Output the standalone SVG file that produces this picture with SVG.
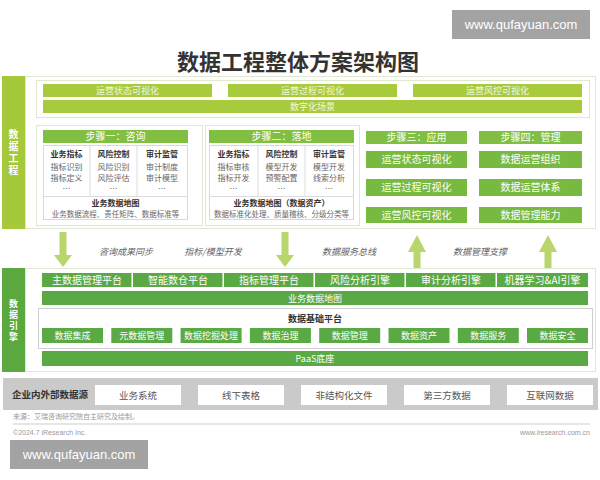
<svg xmlns="http://www.w3.org/2000/svg" width="600" height="480" viewBox="0 0 600 480">
<style>
text{font-family:"Noto Sans CJK SC","Noto Sans",sans-serif;text-anchor:middle}
.title{font-size:22px;font-weight:bold;fill:#333}
.wm{font-family:"Liberation Sans",sans-serif;font-size:13px;fill:#fff}
.vl{font-size:10px;font-weight:bold;fill:#fff;writing-mode:vertical-rl;letter-spacing:2px}
.vl2{font-size:9px;font-weight:bold;fill:#fff;writing-mode:vertical-rl;letter-spacing:2px}
.lg{fill:#a8cb3d}
.lgt{font-size:9px;fill:#f3f8e0}
.frame{fill:#fff;stroke:#e0e9d0}
.hdr{fill:#80bf42}
.hdrt{font-size:10px;fill:#fff}
.inner{fill:#fff;stroke:#d9d9d9}
.div{stroke:#dcdcdc;stroke-width:1}
.hd{font-size:8px;font-weight:bold;fill:#333}
.it{font-size:8px;fill:#666}
.bt{font-size:7.5px;fill:#666}
.st{fill:#78b940}
.stt{font-size:10px;fill:#fff}
.arr{fill:#b8d66c}
.al{font-size:9px;font-style:italic;fill:#666}
.dg{fill:#5aa944}
.dgt{font-size:10px;fill:#fff}
.dgs{font-size:9px;fill:#fff}
.src{fill:#fff}
.srct{font-size:9.5px;fill:#555}
.ft{font-size:7px;fill:#999;text-anchor:start}
</style>

<g id="watermark-top">
<rect x="452" y="10" width="138" height="29" fill="#a3a3a3"/>
<text class="wm" x="521" y="29">www.qufayuan.com</text>
</g>
<text class="title" x="298" y="70">数据工程整体方案架构图</text>

<!-- Section 1: 数据工程 -->
<g id="sec-engineering">
<rect x="25.5" y="76.5" width="570" height="152" class="frame"/>
<rect x="2" y="76" width="23" height="153" fill="#a6c93b"/>
<text class="vl" x="13.5" y="153">数据工程</text>
</g>

<g id="scene-box">
<rect x="36.5" y="80.5" width="553" height="37" fill="#fff" stroke="#dfe8cf"/>
</g>
<g id="viz-state"><rect x="43" y="84" width="169" height="13" class="lg"/><text class="lgt" x="127.5" y="94">运营状态可视化</text></g>
<g id="viz-process"><rect x="228" y="84" width="169" height="13" class="lg"/><text class="lgt" x="312.5" y="94">运营过程可视化</text></g>
<g id="viz-risk"><rect x="413" y="84" width="169" height="13" class="lg"/><text class="lgt" x="497.5" y="94">运营风控可视化</text></g>
<g id="digital-scene"><rect x="43" y="100" width="539" height="13" class="lg"/><text class="lgt" x="312.5" y="110">数字化场景</text></g>

<g id="step1">
<rect x="36.5" y="125.5" width="166" height="100" class="frame"/>
<rect x="43" y="130" width="145" height="13" class="hdr"/>
<text class="hdrt" x="115.5" y="140">步骤一：咨询</text>
<rect x="43.5" y="145.5" width="144" height="74" class="inner"/>
<line x1="90" y1="146" x2="90" y2="196" class="div"/>
<line x1="137" y1="146" x2="137" y2="196" class="div"/>
<line x1="44" y1="196.5" x2="187" y2="196.5" class="div"/>
<text class="hd" x="66.5" y="157">业务指标</text>
<text class="hd" x="113.5" y="157">风险控制</text>
<text class="hd" x="162" y="157">审计监管</text>
<text class="it" x="66.5" y="170">指标识别</text>
<text class="it" x="66.5" y="181">指标定义</text>
<text class="it" x="66.5" y="192">…</text>
<text class="it" x="113.5" y="170">风险识别</text>
<text class="it" x="113.5" y="181">风险评估</text>
<text class="it" x="113.5" y="192">…</text>
<text class="it" x="162" y="170">审计制度</text>
<text class="it" x="162" y="181">审计模型</text>
<text class="it" x="162" y="192">…</text>
<text class="hd" x="115.5" y="206">业务数据地图</text>
<text class="bt" x="115.5" y="217">业务数据流程、责任矩阵、数据标准等</text>
</g>

<g id="step2">
<rect x="205.5" y="125.5" width="154" height="100" class="frame"/>
<rect x="209" y="130" width="145" height="13" class="hdr"/>
<text class="hdrt" x="281.5" y="140">步骤二：落地</text>
<rect x="209.5" y="145.5" width="144" height="74" class="inner"/>
<line x1="258" y1="146" x2="258" y2="196" class="div"/>
<line x1="305" y1="146" x2="305" y2="196" class="div"/>
<line x1="210" y1="196.5" x2="353" y2="196.5" class="div"/>
<text class="hd" x="233.5" y="157">业务指标</text>
<text class="hd" x="281.5" y="157">风险控制</text>
<text class="hd" x="329" y="157">审计监管</text>
<text class="it" x="233.5" y="170">指标审核</text>
<text class="it" x="233.5" y="181">指标开发</text>
<text class="it" x="233.5" y="192">…</text>
<text class="it" x="281.5" y="170">模型开发</text>
<text class="it" x="281.5" y="181">预警配置</text>
<text class="it" x="281.5" y="192">…</text>
<text class="it" x="329" y="170">模型开发</text>
<text class="it" x="329" y="181">线索分析</text>
<text class="it" x="329" y="192">…</text>
<text class="hd" x="281.5" y="206">业务数据地图（数据资产）</text>
<text class="bt" x="281.5" y="217">数据标准化处理、质量稽核、分级分类等</text>
</g>

<g id="step3">
<rect x="366" y="131" width="101" height="13" class="hdr"/>
<text class="hdrt" x="416.5" y="141">步骤三：应用</text>
<rect x="366" y="151" width="101" height="17" class="st"/>
<text class="stt" x="416.5" y="163">运营状态可视化</text>
<rect x="366" y="179" width="101" height="17" class="st"/>
<text class="stt" x="416.5" y="191">运营过程可视化</text>
<rect x="366" y="207" width="101" height="16" class="st"/>
<text class="stt" x="416.5" y="219">运营风控可视化</text>
</g>

<g id="step4">
<rect x="479" y="131" width="103" height="13" class="hdr"/>
<text class="hdrt" x="530.5" y="141">步骤四：管理</text>
<rect x="479" y="151" width="103" height="17" class="st"/>
<text class="stt" x="530.5" y="163">数据运营组织</text>
<rect x="479" y="179" width="103" height="17" class="st"/>
<text class="stt" x="530.5" y="191">数据运营体系</text>
<rect x="479" y="207" width="103" height="16" class="st"/>
<text class="stt" x="530.5" y="219">数据管理能力</text>
</g>

<!-- connectors -->
<g id="connectors">
<polygon class="arr" points="59.5,232 66.5,232 66.5,255 72,255 63,267 54,255 59.5,255"/>
<polygon class="arr" points="281.5,232 288.5,232 288.5,255 294,255 285,267 276,255 281.5,255"/>
<polygon class="arr" points="417,235 426,252 420.5,252 420.5,268 413.5,268 413.5,252 408,252"/>
<polygon class="arr" points="548,235 557,252 551.5,252 551.5,268 544.5,268 544.5,252 539,252"/>
<text class="al" x="126" y="255">咨询成果同步</text>
<text class="al" x="213" y="255">指标/模型开发</text>
<text class="al" x="349" y="255">数据服务总线</text>
<text class="al" x="480" y="255">数据管理支撑</text>
</g>

<!-- Section 2: 数据引擎 -->
<g id="sec-engine">
<rect x="25.5" y="268.5" width="570" height="103" class="frame"/>
<rect x="2" y="268" width="23" height="104" fill="#5aa83e"/>
<text class="vl2" x="13.5" y="321">数据引擎</text>
</g>
<g id="eng-mdm"><rect x="42" y="273" width="89.5" height="14" class="dg"/><text class="dgt" x="87" y="284">主数据管理平台</text></g>
<g id="eng-dw"><rect x="133" y="273" width="89.5" height="14" class="dg"/><text class="dgt" x="178" y="284">智能数仓平台</text></g>
<g id="eng-metric"><rect x="224" y="273" width="89.5" height="14" class="dg"/><text class="dgt" x="269" y="284">指标管理平台</text></g>
<g id="eng-risk"><rect x="315" y="273" width="89.5" height="14" class="dg"/><text class="dgt" x="360" y="284">风险分析引擎</text></g>
<g id="eng-audit"><rect x="406" y="273" width="89.5" height="14" class="dg"/><text class="dgt" x="451" y="284">审计分析引擎</text></g>
<g id="eng-ml"><rect x="497" y="273" width="91" height="14" class="dg"/><text class="dgt" x="542.5" y="284">机器学习&amp;AI引擎</text></g>
<g id="biz-map"><rect x="42" y="291" width="546" height="14" class="dg"/><text class="dgs" x="315" y="301.5">业务数据地图</text></g>

<g id="platform">
<rect x="38.5" y="308.5" width="554" height="40" fill="#fff" stroke="#cfcfcf"/>
<text class="hd" x="315" y="322" style="font-size:9px">数据基础平台</text>
</g>
<g id="p-integration"><rect x="42" y="328" width="61" height="15" class="dg"/><text class="dgs" x="72.5" y="339">数据集成</text></g>
<g id="p-meta"><rect x="111.3" y="328" width="61" height="15" class="dg"/><text class="dgs" x="141.8" y="339">元数据管理</text></g>
<g id="p-mining"><rect x="180.6" y="328" width="61" height="15" class="dg"/><text class="dgs" x="211.1" y="339">数据挖掘处理</text></g>
<g id="p-governance"><rect x="249.9" y="328" width="61" height="15" class="dg"/><text class="dgs" x="280.4" y="339">数据治理</text></g>
<g id="p-management"><rect x="319.2" y="328" width="61" height="15" class="dg"/><text class="dgs" x="349.7" y="339">数据管理</text></g>
<g id="p-asset"><rect x="388.5" y="328" width="61" height="15" class="dg"/><text class="dgs" x="419" y="339">数据资产</text></g>
<g id="p-service"><rect x="457.8" y="328" width="61" height="15" class="dg"/><text class="dgs" x="488.3" y="339">数据服务</text></g>
<g id="p-security"><rect x="527" y="328" width="61" height="15" class="dg"/><text class="dgs" x="557.5" y="339">数据安全</text></g>
<g id="paas"><rect x="42" y="351" width="546" height="15" class="dg"/><text class="dgs" x="315" y="362">PaaS底座</text></g>

<!-- Section 3: sources -->
<g id="sec-sources">
<rect x="3" y="378" width="595" height="32" fill="#cacaca"/>
<text x="50" y="398" style="font-size:9.5px;font-weight:bold;fill:#333">企业内外部数据源</text>
</g>
<g id="src-biz"><rect x="95" y="385" width="86" height="20" class="src"/><text class="srct" x="138" y="399">业务系统</text></g>
<g id="src-offline"><rect x="198" y="385" width="86" height="20" class="src"/><text class="srct" x="241" y="399">线下表格</text></g>
<g id="src-unstruct"><rect x="301" y="385" width="86" height="20" class="src"/><text class="srct" x="344" y="399">非结构化文件</text></g>
<g id="src-third"><rect x="404" y="385" width="86" height="20" class="src"/><text class="srct" x="447" y="399">第三方数据</text></g>
<g id="src-internet"><rect x="507" y="385" width="86" height="20" class="src"/><text class="srct" x="550" y="399">互联网数据</text></g>

<text class="ft" x="13" y="419">来源：艾瑞咨询研究院自主研究及绘制。</text>
<line x1="13" y1="424" x2="590" y2="424" stroke="#dedede" stroke-width="1.5"/>
<text class="ft" x="13" y="435" style="font-family:'Liberation Sans',sans-serif">©2024.7 iResearch Inc.</text>
<text class="ft" x="590" y="435" style="text-anchor:end;font-family:'Liberation Sans',sans-serif">www.iresearch.com.cn</text>

<g id="watermark-bottom">
<rect x="10" y="440" width="138" height="29" fill="#a3a3a3"/>
<text class="wm" x="79" y="459">www.qufayuan.com</text>
</g>
</svg>
